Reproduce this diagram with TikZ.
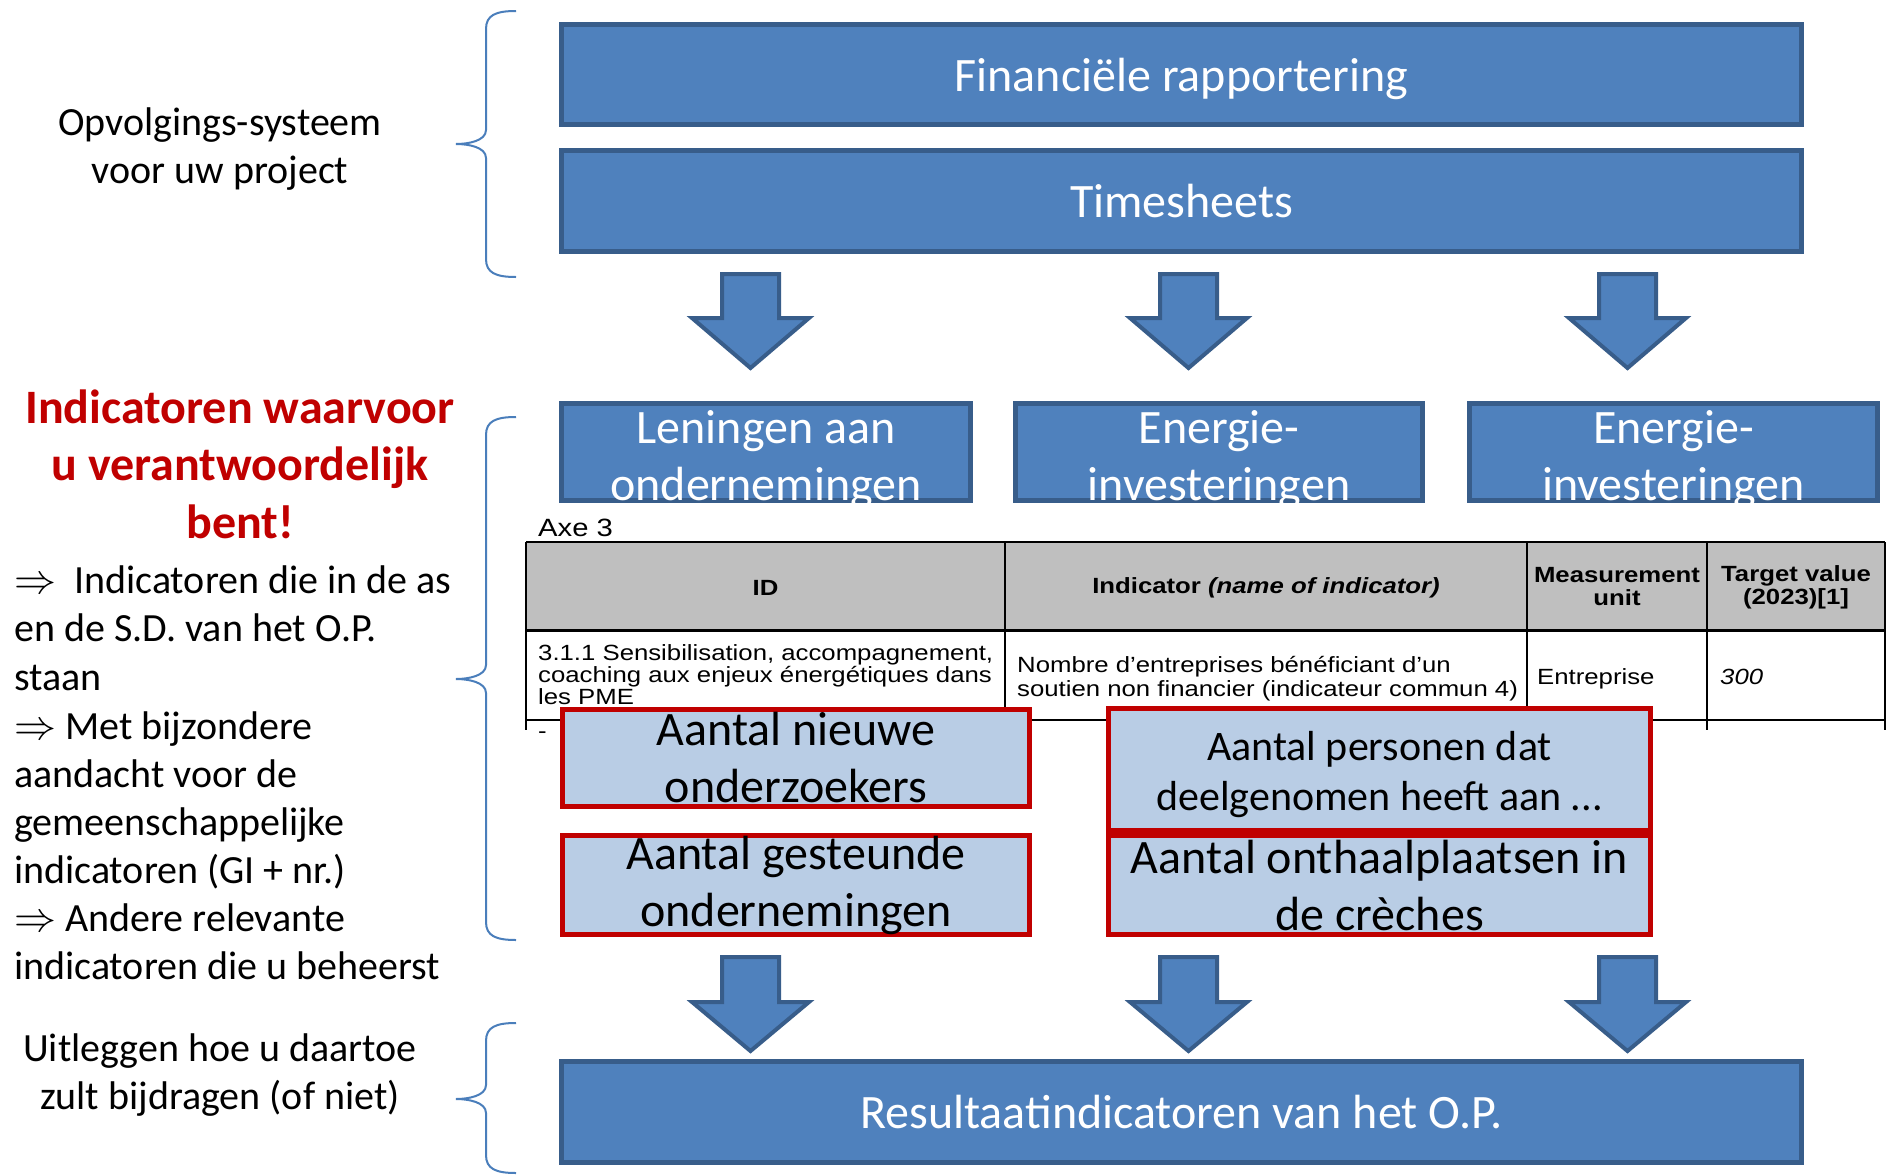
\documentclass[tikz,border=0pt]{standalone}
\usepackage{fontspec}
\setmainfont{Carlito}
\newfontfamily\tblfont[FakeStretch=1.17]{Liberation Sans}
\definecolor{bfill}{HTML}{4F81BD}
\definecolor{bdraw}{HTML}{385D8A}
\definecolor{rborder}{HTML}{C00000}
\definecolor{lblue}{HTML}{B9CDE5}
\definecolor{brc}{HTML}{4A7EBB}
\definecolor{hdr}{HTML}{BFBFBF}
\newcommand\darr{\scalebox{4.2}{\normalsize$\Rightarrow$}}
\tikzset{
 bluebox/.style={draw=bdraw, fill=bfill, line width=5pt, inner sep=0pt, outer sep=0pt, text=white, font=\fontsize{48}{57.6}\selectfont, align=center, text depth=0pt},
 redbox/.style={draw=rborder, fill=lblue, line width=5pt, inner sep=0pt, outer sep=0pt, align=center, font=\fontsize{48}{57}\selectfont},
 bigwhite/.style={text=white, font=\fontsize{48}{57}\selectfont, align=center, inner sep=0pt},
 blockarrow/.style={draw=bdraw, fill=bfill, line width=4pt, line join=miter},
 bracestyle/.style={draw=brc, line width=2pt},
 lefttext/.style={font=\fontsize{40}{48}\selectfont, align=center, inner sep=0pt},
 bul/.style={font=\fontsize{40}{48}\selectfont, anchor=west, inner sep=0pt, text height=28pt, text depth=10pt},
 tbl/.style={font=\tblfont\fontsize{22}{23}\selectfont, inner sep=0pt},
 tbold/.style={font=\tblfont\bfseries\fontsize{22}{23}\selectfont, inner sep=0pt},
 tline/.style={line width=2pt},
}
\newcommand\blockarrowat[4]{%
 \draw[blockarrow] ({#1-28.5},#2) -- ({#1+28.5},#2) -- ({#1+28.5},#3) -- ({#1+58.5},#3) -- (#1,#4) -- ({#1-58.5},#3) -- ({#1-28.5},#3) -- cycle;}
\newcommand\bracepath[3]{%
 \draw[bracestyle] (516,#1) .. controls (496,#1) and (486,{#1+4}) .. (486,{#1+18}) -- (486,{#2-14}) .. controls (486,{#2-3}) and (468,#2) .. (456,#2) .. controls (468,#2) and (486,{#2+3}) .. (486,{#2+14}) -- (486,{#3-18}) .. controls (486,{#3-4}) and (496,#3) .. (516,#3);}
\begin{document}
\begin{tikzpicture}[x=1pt,y=-1pt]
\useasboundingbox (0,0) rectangle (1887,1175);
\fill[white] (0,0) rectangle (1887,1175);

% top boxes
\node[bluebox, minimum width=1240pt, minimum height=100pt] (fin) at (1181.5,74.5) {Financiële rapportering};
\node[bluebox, minimum width=1240pt, minimum height=101pt] (ts) at (1181.5,201) {Timesheets};

% top arrows
\blockarrowat{750.5}{274}{318}{368}
\blockarrowat{1188.5}{274}{318}{368}
\blockarrowat{1627.5}{274}{318}{368}

% middle boxes
\node[bluebox, minimum width=409pt, minimum height=97pt] (m1) at (766,452) {};
\node[bluebox, minimum width=407pt, minimum height=97pt] (m2) at (1219,452) {};
\node[bluebox, minimum width=408pt, minimum height=97pt] (m3) at (1673.5,452) {};
\begin{scope}
\clip (559,401) rectangle (973,503);
\node[bigwhite] (m1t) at (766,460) {Leningen aan\\ondernemingen};
\end{scope}
\begin{scope}
\clip (1013,401) rectangle (1425,503);
\node[bigwhite] (m2t) at (1219,460) {Energie-\\investeringen};
\end{scope}
\begin{scope}
\clip (1467,401) rectangle (1880,503);
\node[bigwhite] (m3t) at (1673.5,460) {Energie-\\investeringen};
\end{scope}

% table
\node[tbl, font=\tblfont\fontsize{25}{27}\selectfont, anchor=base west] (axe) at (538,536) {Axe 3};
\fill[hdr] (526,542) rectangle (1885,630);
\draw[tline] (526,542) -- (1885,542);
\draw[line width=3pt] (526,630) -- (1885,630);
\draw[tline] (526,720) -- (1885,720);
\foreach \x in {526,1005,1527,1707,1885} \draw[tline] (\x,542) -- (\x,730);
\node[tbold] (hid) at (765.5,588) {ID};
\node[tbold] (hind) at (1266,588) {Indicator \textit{(name of indicator)}};
\node[tbold, align=center] (hmu) at (1617,587) {Measurement\\unit};
\node[tbold, align=center] (htv) at (1796,587) {Target value\\(2023)[1]};
\node[tbl, anchor=base west] (r1a) at (538,660) {3.1.1 Sensibilisation, accompagnement,};
\node[tbl, anchor=base west] (r1b) at (538,682) {coaching aux enjeux énergétiques dans};
\node[tbl, anchor=base west] (r1c) at (538,704) {les PME};
\node[tbl, anchor=base west] (r2a) at (1017,672) {Nombre d’entreprises bénéficiant d’un};
\node[tbl, anchor=base west] (r2b) at (1017,696) {soutien non financier (indicateur commun 4)};
\node[tbl, anchor=base west] (r3) at (1537,684) {Entreprise};
\node[tbl, anchor=base west] (r4) at (1720,684) {\itshape 300};
\node[tbl, anchor=base west] (dash) at (538,738) {-};

% red boxes
\node[redbox, minimum width=467pt, minimum height=97pt] (ra) at (796,758) {Aantal nieuwe\\onderzoekers};
\node[redbox, minimum width=467pt, minimum height=99pt] (rb) at (796,885) {Aantal gesteunde\\ondernemingen};
\node[redbox, minimum width=542pt, minimum height=122pt] (rc) at (1379.5,769.5) {};
\node[font=\fontsize{42}{50}\selectfont, align=center, inner sep=0pt] (rct) at (1379.5,775) {Aantal personen dat\\deelgenomen heeft aan ...};
\node[redbox, minimum width=542pt, minimum height=99pt] (rd) at (1379.5,885) {Aantal onthaalplaatsen in\\de crèches};

% bottom arrows
\blockarrowat{750.5}{957}{1002}{1051}
\blockarrowat{1188.5}{957}{1002}{1051}
\blockarrowat{1627.5}{957}{1002}{1051}

% result box
\node[bluebox, minimum width=1240pt, minimum height=101pt] (res) at (1181.5,1112) {Resultaatindicatoren van het O.P.};

% braces
\bracepath{11}{144}{277}
\bracepath{417}{679}{940}
\bracepath{1023}{1099}{1173}

% left texts
\node[lefttext] (opv) at (220,149) {Opvolgings-systeem\\voor uw project};
\node[font=\bfseries\fontsize{48}{57.5}\selectfont, text=rborder, align=center, inner sep=0pt] (title) at (240,464) {Indicatoren waarvoor\\u verantwoordelijk\\bent!};
\node[bul] (b1) at (14,584) {\darr\ \ Indicatoren die in de as};
\node[bul] (b2) at (14,632) {en de S.D. van het O.P.};
\node[bul] (b3) at (14,681) {staan};
\node[bul] (b4) at (14,730) {\darr\ Met bijzondere};
\node[bul] (b5) at (14,778) {aandacht voor de};
\node[bul] (b6) at (14,826) {gemeenschappelijke};
\node[bul] (b7) at (14,874) {indicatoren (GI + nr.)};
\node[bul] (b8) at (14,922) {\darr\ Andere relevante};
\node[bul] (b9) at (14,970) {indicatoren die u beheerst};
\node[lefttext] (uit) at (220,1075) {Uitleggen hoe u daartoe\\zult bijdragen (of niet)};
\end{tikzpicture}
\end{document}
